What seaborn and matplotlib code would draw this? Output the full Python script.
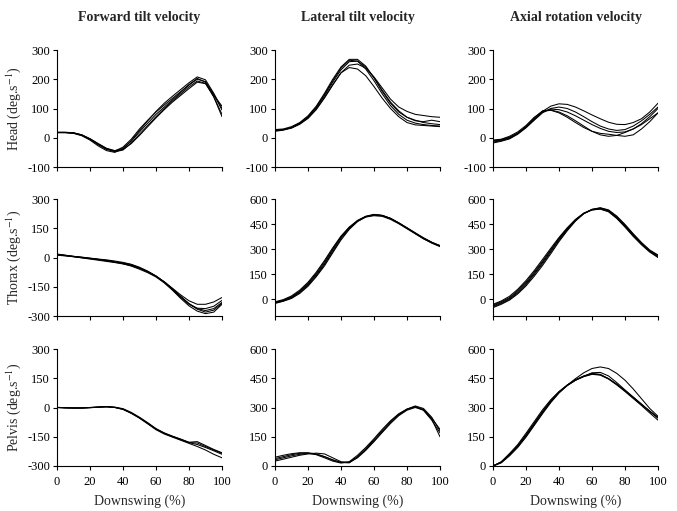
import pandas as pd
import numpy as np
import matplotlib
matplotlib.use("Agg")
import matplotlib.pyplot as plt
import seaborn as sns

# downswing percentage (x axis)
pct = list(range(0, 101, 5))

# Head
head_fwd = [
    [18, 18, 16, 8, -6, -24, -40, -46, -32, -5, 30, 60, 88, 112, 135, 158, 182, 203, 190, 140, 80],
    [19, 19, 17, 10, -3, -20, -36, -44, -36, -12, 20, 50, 80, 105, 130, 155, 180, 200, 192, 148, 95],
    [17, 17, 15, 7, -8, -28, -44, -50, -38, -10, 25, 58, 90, 118, 142, 165, 188, 208, 198, 152, 100],
    [18, 18, 16, 9, -5, -22, -38, -48, -42, -18, 12, 42, 72, 100, 126, 150, 174, 194, 186, 145, 108],
    [18, 18, 17, 10, -4, -21, -37, -45, -40, -20, 8, 38, 68, 96, 122, 145, 168, 190, 185, 140, 72],
]
head_lat = [
    [25, 28, 35, 50, 72, 105, 148, 195, 238, 265, 262, 235, 195, 150, 110, 80, 60, 50, 45, 42, 40],
    [28, 30, 38, 52, 75, 108, 152, 200, 242, 268, 268, 245, 205, 158, 118, 88, 70, 60, 52, 48, 45],
    [22, 26, 33, 46, 66, 96, 136, 180, 222, 248, 252, 238, 208, 170, 132, 105, 90, 80, 76, 72, 70],
    [26, 28, 34, 48, 68, 98, 138, 182, 222, 240, 235, 212, 175, 135, 100, 72, 52, 44, 42, 40, 38],
    [24, 27, 34, 49, 70, 102, 144, 190, 232, 260, 262, 242, 205, 162, 122, 92, 70, 58, 55, 60, 55],
]
head_ax = [
    [-12, -8, 0, 15, 35, 62, 90, 108, 116, 114, 105, 92, 78, 65, 53, 46, 45, 52, 65, 88, 118],
    [-15, -10, -2, 14, 38, 68, 92, 95, 88, 75, 58, 40, 22, 10, 5, 8, 18, 30, 45, 65, 85],
    [-8, -5, 5, 20, 42, 70, 90, 94, 85, 70, 52, 35, 22, 15, 12, 8, 5, 10, 30, 55, 85],
    [-18, -12, -4, 12, 34, 60, 85, 100, 105, 100, 88, 72, 55, 40, 30, 25, 28, 40, 58, 80, 105],
    [-10, -6, 2, 16, 38, 64, 88, 98, 96, 88, 75, 60, 45, 32, 22, 18, 20, 30, 48, 72, 100],
]

# Thorax
thx_fwd = [
    [15, 10, 5, 0, -5, -10, -15, -22, -30, -40, -55, -72, -95, -125, -160, -200, -238, -265, -280, -270, -235],
    [18, 12, 6, 2, -3, -8, -12, -18, -25, -35, -50, -70, -95, -128, -165, -205, -240, -260, -262, -250, -220],
    [12, 8, 4, -2, -8, -14, -20, -26, -33, -42, -56, -74, -96, -124, -158, -192, -222, -240, -240, -228, -205],
    [16, 11, 6, 1, -4, -9, -16, -24, -32, -44, -60, -78, -100, -130, -168, -210, -248, -275, -288, -280, -240],
    [15, 10, 4, -1, -6, -11, -17, -23, -28, -36, -52, -72, -96, -126, -162, -200, -236, -262, -272, -262, -230],
]
thx_lat = [
    [-20, -8, 12, 45, 90, 148, 215, 295, 370, 428, 470, 495, 505, 500, 482, 455, 425, 395, 365, 340, 318],
    [-15, -2, 20, 55, 102, 162, 232, 308, 378, 432, 472, 497, 508, 502, 484, 456, 425, 393, 362, 336, 315],
    [-25, -12, 5, 35, 78, 135, 200, 278, 355, 418, 465, 493, 505, 502, 485, 458, 428, 398, 368, 342, 320],
    [-18, -6, 15, 48, 95, 155, 225, 302, 375, 430, 468, 492, 500, 496, 478, 452, 422, 392, 362, 338, 318],
    [-22, -10, 8, 40, 84, 140, 208, 285, 362, 422, 466, 494, 506, 501, 483, 457, 427, 396, 366, 340, 322],
]
thx_ax = [
    [-40, -20, 5, 45, 95, 155, 220, 290, 360, 420, 475, 515, 538, 545, 530, 490, 440, 385, 335, 290, 258],
    [-30, -10, 18, 60, 112, 172, 238, 305, 370, 428, 478, 515, 535, 540, 525, 485, 435, 380, 330, 288, 262],
    [-50, -30, -5, 32, 80, 138, 202, 272, 345, 410, 468, 512, 538, 548, 535, 498, 448, 392, 340, 295, 265],
    [-45, -25, 0, 38, 88, 148, 212, 282, 352, 415, 470, 512, 536, 545, 532, 494, 444, 388, 336, 288, 252],
    [-35, -15, 10, 52, 103, 163, 228, 296, 364, 424, 476, 514, 534, 540, 524, 484, 432, 376, 326, 282, 250],
]

# Pelvis
pel_fwd = [
    [0, -2, -3, -3, -1, 2, 4, 1, -8, -28, -52, -80, -110, -132, -148, -163, -180, -190, -205, -222, -240],
    [0, -1, -2, -2, 0, 3, 5, 2, -6, -25, -50, -78, -108, -130, -147, -162, -178, -175, -195, -215, -232],
    [1, -1, -2, -2, 0, 2, 4, 0, -10, -30, -55, -84, -114, -136, -152, -168, -184, -200, -218, -240, -258],
    [0, -2, -3, -3, -1, 1, 3, 0, -9, -29, -53, -82, -111, -133, -150, -165, -180, -182, -200, -218, -235],
]
pel_lat = [
    [38, 48, 58, 65, 66, 58, 42, 25, 15, 22, 55, 95, 140, 188, 232, 268, 292, 303, 285, 235, 170],
    [45, 55, 63, 68, 68, 62, 48, 30, 18, 20, 48, 85, 128, 175, 222, 262, 290, 305, 290, 245, 188],
    [25, 35, 45, 55, 62, 66, 62, 42, 22, 18, 42, 80, 125, 172, 218, 258, 286, 300, 288, 240, 150],
    [32, 42, 52, 60, 64, 60, 48, 32, 18, 16, 45, 88, 135, 182, 228, 265, 292, 308, 295, 250, 180],
]
pel_ax = [
    [0, 20, 60, 105, 160, 220, 280, 335, 380, 415, 443, 462, 475, 470, 448, 418, 385, 350, 315, 280, 248],
    [0, 18, 55, 100, 152, 212, 272, 328, 375, 412, 440, 460, 472, 468, 448, 420, 388, 354, 318, 282, 250],
    [0, 22, 64, 110, 168, 228, 288, 340, 382, 415, 440, 458, 470, 466, 446, 416, 382, 346, 310, 272, 235],
    [0, 16, 52, 95, 148, 208, 268, 325, 375, 415, 448, 478, 500, 508, 500, 475, 440, 395, 345, 295, 255],
    [0, 20, 58, 102, 158, 218, 278, 332, 378, 413, 440, 460, 478, 480, 462, 428, 390, 352, 315, 280, 245],
]

col_titles = ["Forward tilt velocity", "Lateral tilt velocity", "Axial rotation velocity"]
row_labels = ["Head", "Thorax", "Pelvis"]
panels = [[head_fwd, head_lat, head_ax],
          [thx_fwd, thx_lat, thx_ax],
          [pel_fwd, pel_lat, pel_ax]]
ylims = [[(-100, 300)] * 3,
         [(-300, 300), (-100, 600), (-100, 600)],
         [(-300, 300), (0, 600), (0, 600)]]
yticks = [[[-100, 0, 100, 200, 300]] * 3,
          [[-300, -150, 0, 150, 300], [0, 150, 300, 450, 600], [0, 150, 300, 450, 600]],
          [[-300, -150, 0, 150, 300], [0, 150, 300, 450, 600], [0, 150, 300, 450, 600]]]

sns.set_style("ticks")
plt.rcParams["font.family"] = ["Liberation Serif", "DejaVu Serif"]
plt.rcParams["mathtext.fontset"] = "stix"
plt.rcParams["axes.unicode_minus"] = False

W, H = 677, 511
fig = plt.figure(figsize=(W / 100, H / 100), dpi=100)

col_left = [57, 275, 493]
col_w = 165
row_top = [50, 199, 349]
row_h = 117

for r in range(3):
    for c in range(3):
        ax = fig.add_axes([col_left[c] / W, 1 - (row_top[r] + row_h) / H, col_w / W, row_h / H])
        rows = []
        for k, trial in enumerate(panels[r][c]):
            for p, v in zip(pct, trial):
                rows.append({"pct": p, "vel": v, "trial": k})
        df = pd.DataFrame(rows)
        sns.lineplot(data=df, x="pct", y="vel", units="trial", estimator=None,
                     color="black", linewidth=0.75, ax=ax)
        ax.set_xlim(0, 100)
        ax.set_ylim(*ylims[r][c])
        ax.set_xticks(range(0, 101, 20))
        ax.set_yticks(yticks[r][c])
        ax.tick_params(labelsize=9, length=3, width=0.8, color="black", labelcolor="black", pad=2)
        ax.tick_params(axis="x", pad=4)
        for s in ["left", "bottom"]:
            ax.spines[s].set_color("black")
            ax.spines[s].set_linewidth(0.8)
        sns.despine(ax=ax)
        ax.set_ylabel("")
        if r == 2:
            ax.set_xlabel("Downswing (%)", fontsize=10, labelpad=5)
        else:
            ax.set_xlabel("")
            ax.set_xticklabels([])
        if c == 0:
            ax.set_ylabel(row_labels[r] + " (deg.s$^{-1}$)", fontsize=10, labelpad=3)
        if r == 0:
            ax.set_title(col_titles[c], fontsize=10, fontweight="bold", pad=21)

fig.savefig("out.png", dpi=100)
